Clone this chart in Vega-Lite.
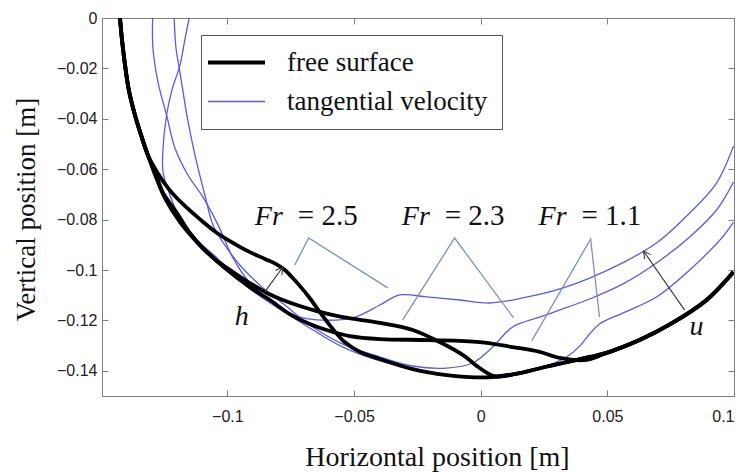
{
  "$schema": "https://vega.github.io/schema/vega-lite/v6.json",
  "width": 632,
  "height": 378,
  "autosize": {"type": "none"},
  "padding": {"left": 102, "top": 18, "right": 11, "bottom": 76},
  "background": "white",
  "config": {
    "view": {"stroke": "#808080", "strokeWidth": 1},
    "axis": {"grid": false, "domainColor": "#808080", "tickColor": "#808080", "tickSize": -6, "labelFont": "Liberation Sans", "labelFontSize": 16, "labelColor": "#222222", "titleFont": "Liberation Serif", "titleFontSize": 28, "titleFontWeight": "normal", "titleColor": "#111111"}
  },
  "datasets": {
    "curves": [
      {"s":"tangential velocity","f":"2.5","i":0,"x":-0.1295,"y":0},
      {"s":"tangential velocity","f":"2.5","i":1,"x":-0.1294,"y":-0.0119},
      {"s":"tangential velocity","f":"2.5","i":2,"x":-0.1274,"y":-0.0254},
      {"s":"tangential velocity","f":"2.5","i":3,"x":-0.1240,"y":-0.0385},
      {"s":"tangential velocity","f":"2.5","i":4,"x":-0.1207,"y":-0.0516},
      {"s":"tangential velocity","f":"2.5","i":5,"x":-0.1156,"y":-0.0623},
      {"s":"tangential velocity","f":"2.5","i":6,"x":-0.1097,"y":-0.0710},
      {"s":"tangential velocity","f":"2.5","i":7,"x":-0.1037,"y":-0.0821},
      {"s":"tangential velocity","f":"2.5","i":8,"x":-0.0978,"y":-0.0952},
      {"s":"tangential velocity","f":"2.5","i":9,"x":-0.0911,"y":-0.1052},
      {"s":"tangential velocity","f":"2.5","i":10,"x":-0.0852,"y":-0.1107},
      {"s":"tangential velocity","f":"2.5","i":11,"x":-0.0781,"y":-0.1159},
      {"s":"tangential velocity","f":"2.5","i":12,"x":-0.0714,"y":-0.1187},
      {"s":"tangential velocity","f":"2.5","i":13,"x":-0.0647,"y":-0.1198},
      {"s":"tangential velocity","f":"2.5","i":14,"x":-0.0505,"y":-0.1190},
      {"s":"tangential velocity","f":"2.5","i":15,"x":-0.0398,"y":-0.1139},
      {"s":"tangential velocity","f":"2.5","i":16,"x":-0.0320,"y":-0.1099},
      {"s":"tangential velocity","f":"2.5","i":17,"x":-0.0213,"y":-0.1107},
      {"s":"tangential velocity","f":"2.5","i":18,"x":-0.0083,"y":-0.1119},
      {"s":"tangential velocity","f":"2.5","i":19,"x":0.0036,"y":-0.1131},
      {"s":"tangential velocity","f":"2.5","i":20,"x":0.0166,"y":-0.1111},
      {"s":"tangential velocity","f":"2.5","i":21,"x":0.0300,"y":-0.1079},
      {"s":"tangential velocity","f":"2.5","i":22,"x":0.0430,"y":-0.1032},
      {"s":"tangential velocity","f":"2.5","i":23,"x":0.0560,"y":-0.0972},
      {"s":"tangential velocity","f":"2.5","i":24,"x":0.0694,"y":-0.0893},
      {"s":"tangential velocity","f":"2.5","i":25,"x":0.0825,"y":-0.0774},
      {"s":"tangential velocity","f":"2.5","i":26,"x":0.0931,"y":-0.0655},
      {"s":"tangential velocity","f":"2.5","i":27,"x":0.0998,"y":-0.0508},
      {"s":"tangential velocity","f":"2.3","i":0,"x":-0.1210,"y":0},
      {"s":"tangential velocity","f":"2.3","i":1,"x":-0.1203,"y":-0.0119},
      {"s":"tangential velocity","f":"2.3","i":2,"x":-0.1191,"y":-0.0194},
      {"s":"tangential velocity","f":"2.3","i":3,"x":-0.1176,"y":-0.0286},
      {"s":"tangential velocity","f":"2.3","i":4,"x":-0.1160,"y":-0.0385},
      {"s":"tangential velocity","f":"2.3","i":5,"x":-0.1128,"y":-0.0544},
      {"s":"tangential velocity","f":"2.3","i":6,"x":-0.1089,"y":-0.0702},
      {"s":"tangential velocity","f":"2.3","i":7,"x":-0.1057,"y":-0.0821},
      {"s":"tangential velocity","f":"2.3","i":8,"x":-0.1010,"y":-0.0901},
      {"s":"tangential velocity","f":"2.3","i":9,"x":-0.0951,"y":-0.0980},
      {"s":"tangential velocity","f":"2.3","i":10,"x":-0.0872,"y":-0.1060},
      {"s":"tangential velocity","f":"2.3","i":11,"x":-0.0773,"y":-0.1139},
      {"s":"tangential velocity","f":"2.3","i":12,"x":-0.0675,"y":-0.1218},
      {"s":"tangential velocity","f":"2.3","i":13,"x":-0.0544,"y":-0.1294},
      {"s":"tangential velocity","f":"2.3","i":14,"x":-0.0410,"y":-0.1341},
      {"s":"tangential velocity","f":"2.3","i":15,"x":-0.0268,"y":-0.1381},
      {"s":"tangential velocity","f":"2.3","i":16,"x":-0.0134,"y":-0.1389},
      {"s":"tangential velocity","f":"2.3","i":17,"x":-0.0032,"y":-0.1369},
      {"s":"tangential velocity","f":"2.3","i":18,"x":0.0047,"y":-0.1306},
      {"s":"tangential velocity","f":"2.3","i":19,"x":0.0126,"y":-0.1226},
      {"s":"tangential velocity","f":"2.3","i":20,"x":0.0233,"y":-0.1187},
      {"s":"tangential velocity","f":"2.3","i":21,"x":0.0300,"y":-0.1163},
      {"s":"tangential velocity","f":"2.3","i":22,"x":0.0430,"y":-0.1115},
      {"s":"tangential velocity","f":"2.3","i":23,"x":0.0560,"y":-0.1056},
      {"s":"tangential velocity","f":"2.3","i":24,"x":0.0694,"y":-0.0972},
      {"s":"tangential velocity","f":"2.3","i":25,"x":0.0825,"y":-0.0869},
      {"s":"tangential velocity","f":"2.3","i":26,"x":0.0931,"y":-0.0762},
      {"s":"tangential velocity","f":"2.3","i":27,"x":0.0998,"y":-0.0651},
      {"s":"tangential velocity","f":"1.1","i":0,"x":-0.1151,"y":0},
      {"s":"tangential velocity","f":"1.1","i":1,"x":-0.1168,"y":-0.0087},
      {"s":"tangential velocity","f":"1.1","i":2,"x":-0.1187,"y":-0.0187},
      {"s":"tangential velocity","f":"1.1","i":3,"x":-0.1219,"y":-0.0286},
      {"s":"tangential velocity","f":"1.1","i":4,"x":-0.1240,"y":-0.0385},
      {"s":"tangential velocity","f":"1.1","i":5,"x":-0.1254,"y":-0.0516},
      {"s":"tangential velocity","f":"1.1","i":6,"x":-0.1254,"y":-0.0611},
      {"s":"tangential velocity","f":"1.1","i":7,"x":-0.1227,"y":-0.0702},
      {"s":"tangential velocity","f":"1.1","i":8,"x":-0.1187,"y":-0.0794},
      {"s":"tangential velocity","f":"1.1","i":9,"x":-0.1128,"y":-0.0873},
      {"s":"tangential velocity","f":"1.1","i":10,"x":-0.1041,"y":-0.0952},
      {"s":"tangential velocity","f":"1.1","i":11,"x":-0.0911,"y":-0.1075},
      {"s":"tangential velocity","f":"1.1","i":12,"x":-0.0781,"y":-0.1163},
      {"s":"tangential velocity","f":"1.1","i":13,"x":-0.0675,"y":-0.1230},
      {"s":"tangential velocity","f":"1.1","i":14,"x":-0.0544,"y":-0.1306},
      {"s":"tangential velocity","f":"1.1","i":15,"x":-0.0398,"y":-0.1361},
      {"s":"tangential velocity","f":"1.1","i":16,"x":-0.0241,"y":-0.1401},
      {"s":"tangential velocity","f":"1.1","i":17,"x":-0.0083,"y":-0.1425},
      {"s":"tangential velocity","f":"1.1","i":18,"x":0.0075,"y":-0.1429},
      {"s":"tangential velocity","f":"1.1","i":19,"x":0.0154,"y":-0.1413},
      {"s":"tangential velocity","f":"1.1","i":20,"x":0.0260,"y":-0.1381},
      {"s":"tangential velocity","f":"1.1","i":21,"x":0.0339,"y":-0.1345},
      {"s":"tangential velocity","f":"1.1","i":22,"x":0.0391,"y":-0.1302},
      {"s":"tangential velocity","f":"1.1","i":23,"x":0.0430,"y":-0.1254},
      {"s":"tangential velocity","f":"1.1","i":24,"x":0.0469,"y":-0.1214},
      {"s":"tangential velocity","f":"1.1","i":25,"x":0.0560,"y":-0.1171},
      {"s":"tangential velocity","f":"1.1","i":26,"x":0.0694,"y":-0.1107},
      {"s":"tangential velocity","f":"1.1","i":27,"x":0.0825,"y":-0.1000},
      {"s":"tangential velocity","f":"1.1","i":28,"x":0.0955,"y":-0.0869},
      {"s":"tangential velocity","f":"1.1","i":29,"x":0.0998,"y":-0.0810},

      {"s":"free surface","f":"2.5","i":0,"x":-0.1424,"y":0},
      {"s":"free surface","f":"2.5","i":1,"x":-0.1416,"y":-0.0087},
      {"s":"free surface","f":"2.5","i":2,"x":-0.1404,"y":-0.0187},
      {"s":"free surface","f":"2.5","i":3,"x":-0.1389,"y":-0.0286},
      {"s":"free surface","f":"2.5","i":4,"x":-0.1365,"y":-0.0385},
      {"s":"free surface","f":"2.5","i":5,"x":-0.1341,"y":-0.0464},
      {"s":"free surface","f":"2.5","i":6,"x":-0.1314,"y":-0.0544},
      {"s":"free surface","f":"2.5","i":7,"x":-0.1278,"y":-0.0611},
      {"s":"free surface","f":"2.5","i":8,"x":-0.1231,"y":-0.0679},
      {"s":"free surface","f":"2.5","i":9,"x":-0.1172,"y":-0.0742},
      {"s":"free surface","f":"2.5","i":10,"x":-0.1109,"y":-0.0798},
      {"s":"free surface","f":"2.5","i":11,"x":-0.1041,"y":-0.0853},
      {"s":"free surface","f":"2.5","i":12,"x":-0.0970,"y":-0.0897},
      {"s":"free surface","f":"2.5","i":13,"x":-0.0911,"y":-0.0929},
      {"s":"free surface","f":"2.5","i":14,"x":-0.0852,"y":-0.0956},
      {"s":"free surface","f":"2.5","i":15,"x":-0.0809,"y":-0.0976},
      {"s":"free surface","f":"2.5","i":16,"x":-0.0773,"y":-0.1000},
      {"s":"free surface","f":"2.5","i":17,"x":-0.0742,"y":-0.1032},
      {"s":"free surface","f":"2.5","i":18,"x":-0.0714,"y":-0.1063},
      {"s":"free surface","f":"2.5","i":19,"x":-0.0675,"y":-0.1111},
      {"s":"free surface","f":"2.5","i":20,"x":-0.0635,"y":-0.1167},
      {"s":"free surface","f":"2.5","i":21,"x":-0.0584,"y":-0.1234},
      {"s":"free surface","f":"2.5","i":22,"x":-0.0537,"y":-0.1286},
      {"s":"free surface","f":"2.5","i":23,"x":-0.0477,"y":-0.1325},
      {"s":"free surface","f":"2.5","i":24,"x":-0.0398,"y":-0.1353},
      {"s":"free surface","f":"2.5","i":25,"x":-0.0268,"y":-0.1393},
      {"s":"free surface","f":"2.5","i":26,"x":-0.0134,"y":-0.1417},
      {"s":"free surface","f":"2.5","i":27,"x":-0.0043,"y":-0.1425},
      {"s":"free surface","f":"2.5","i":28,"x":0.0036,"y":-0.1425},
      {"s":"free surface","f":"2.5","i":29,"x":0.0154,"y":-0.1409},
      {"s":"free surface","f":"2.5","i":30,"x":0.0253,"y":-0.1385},
      {"s":"free surface","f":"2.5","i":31,"x":0.0324,"y":-0.1369},
      {"s":"free surface","f":"2.5","i":32,"x":0.0430,"y":-0.1345},
      {"s":"free surface","f":"2.5","i":33,"x":0.0497,"y":-0.1329},
      {"s":"free surface","f":"2.5","i":34,"x":0.0627,"y":-0.1278},
      {"s":"free surface","f":"2.5","i":35,"x":0.0757,"y":-0.1210},
      {"s":"free surface","f":"2.5","i":36,"x":0.0892,"y":-0.1119},
      {"s":"free surface","f":"2.5","i":37,"x":0.0998,"y":-0.1008},

      {"s":"free surface","f":"2.3","i":0,"x":-0.1424,"y":0},
      {"s":"free surface","f":"2.3","i":1,"x":-0.1416,"y":-0.0087},
      {"s":"free surface","f":"2.3","i":2,"x":-0.1404,"y":-0.0187},
      {"s":"free surface","f":"2.3","i":3,"x":-0.1389,"y":-0.0286},
      {"s":"free surface","f":"2.3","i":4,"x":-0.1365,"y":-0.0385},
      {"s":"free surface","f":"2.3","i":5,"x":-0.1341,"y":-0.0464},
      {"s":"free surface","f":"2.3","i":6,"x":-0.1314,"y":-0.0544},
      {"s":"free surface","f":"2.3","i":7,"x":-0.1286,"y":-0.0611},
      {"s":"free surface","f":"2.3","i":8,"x":-0.1254,"y":-0.0694},
      {"s":"free surface","f":"2.3","i":9,"x":-0.1199,"y":-0.0774},
      {"s":"free surface","f":"2.3","i":10,"x":-0.1148,"y":-0.0853},
      {"s":"free surface","f":"2.3","i":11,"x":-0.1097,"y":-0.0913},
      {"s":"free surface","f":"2.3","i":12,"x":-0.1041,"y":-0.0964},
      {"s":"free surface","f":"2.3","i":13,"x":-0.0978,"y":-0.1008},
      {"s":"free surface","f":"2.3","i":14,"x":-0.0911,"y":-0.1052},
      {"s":"free surface","f":"2.3","i":15,"x":-0.0844,"y":-0.1091},
      {"s":"free surface","f":"2.3","i":16,"x":-0.0781,"y":-0.1119},
      {"s":"free surface","f":"2.3","i":17,"x":-0.0714,"y":-0.1143},
      {"s":"free surface","f":"2.3","i":18,"x":-0.0647,"y":-0.1163},
      {"s":"free surface","f":"2.3","i":19,"x":-0.0544,"y":-0.1187},
      {"s":"free surface","f":"2.3","i":20,"x":-0.0398,"y":-0.1210},
      {"s":"free surface","f":"2.3","i":21,"x":-0.0268,"y":-0.1238},
      {"s":"free surface","f":"2.3","i":22,"x":-0.0162,"y":-0.1286},
      {"s":"free surface","f":"2.3","i":23,"x":-0.0071,"y":-0.1337},
      {"s":"free surface","f":"2.3","i":24,"x":-0.0004,"y":-0.1389},
      {"s":"free surface","f":"2.3","i":25,"x":0.0055,"y":-0.1421},
      {"s":"free surface","f":"2.3","i":26,"x":0.0154,"y":-0.1409},
      {"s":"free surface","f":"2.3","i":27,"x":0.0253,"y":-0.1385},
      {"s":"free surface","f":"2.3","i":28,"x":0.0324,"y":-0.1369},
      {"s":"free surface","f":"2.3","i":29,"x":0.0430,"y":-0.1345},
      {"s":"free surface","f":"2.3","i":30,"x":0.0497,"y":-0.1329},
      {"s":"free surface","f":"2.3","i":31,"x":0.0627,"y":-0.1278},
      {"s":"free surface","f":"2.3","i":32,"x":0.0757,"y":-0.1210},
      {"s":"free surface","f":"2.3","i":33,"x":0.0892,"y":-0.1119},
      {"s":"free surface","f":"2.3","i":34,"x":0.0998,"y":-0.1008},

      {"s":"free surface","f":"1.1","i":0,"x":-0.1424,"y":0},
      {"s":"free surface","f":"1.1","i":1,"x":-0.1416,"y":-0.0087},
      {"s":"free surface","f":"1.1","i":2,"x":-0.1404,"y":-0.0187},
      {"s":"free surface","f":"1.1","i":3,"x":-0.1389,"y":-0.0286},
      {"s":"free surface","f":"1.1","i":4,"x":-0.1365,"y":-0.0385},
      {"s":"free surface","f":"1.1","i":5,"x":-0.1341,"y":-0.0464},
      {"s":"free surface","f":"1.1","i":6,"x":-0.1314,"y":-0.0544},
      {"s":"free surface","f":"1.1","i":7,"x":-0.1282,"y":-0.0631},
      {"s":"free surface","f":"1.1","i":8,"x":-0.1247,"y":-0.0714},
      {"s":"free surface","f":"1.1","i":9,"x":-0.1187,"y":-0.0810},
      {"s":"free surface","f":"1.1","i":10,"x":-0.1109,"y":-0.0901},
      {"s":"free surface","f":"1.1","i":11,"x":-0.1010,"y":-0.0992},
      {"s":"free surface","f":"1.1","i":12,"x":-0.0911,"y":-0.1068},
      {"s":"free surface","f":"1.1","i":13,"x":-0.0832,"y":-0.1119},
      {"s":"free surface","f":"1.1","i":14,"x":-0.0754,"y":-0.1175},
      {"s":"free surface","f":"1.1","i":15,"x":-0.0675,"y":-0.1214},
      {"s":"free surface","f":"1.1","i":16,"x":-0.0596,"y":-0.1242},
      {"s":"free surface","f":"1.1","i":17,"x":-0.0517,"y":-0.1262},
      {"s":"free surface","f":"1.1","i":18,"x":-0.0398,"y":-0.1274},
      {"s":"free surface","f":"1.1","i":19,"x":-0.0201,"y":-0.1278},
      {"s":"free surface","f":"1.1","i":20,"x":-0.0004,"y":-0.1286},
      {"s":"free surface","f":"1.1","i":21,"x":0.0126,"y":-0.1306},
      {"s":"free surface","f":"1.1","i":22,"x":0.0233,"y":-0.1325},
      {"s":"free surface","f":"1.1","i":23,"x":0.0312,"y":-0.1349},
      {"s":"free surface","f":"1.1","i":24,"x":0.0418,"y":-0.1357},
      {"s":"free surface","f":"1.1","i":25,"x":0.0497,"y":-0.1329},
      {"s":"free surface","f":"1.1","i":26,"x":0.0627,"y":-0.1278},
      {"s":"free surface","f":"1.1","i":27,"x":0.0757,"y":-0.1210},
      {"s":"free surface","f":"1.1","i":28,"x":0.0892,"y":-0.1119},
      {"s":"free surface","f":"1.1","i":29,"x":0.0998,"y":-0.1008}
    ],
    "leaders": [
      {"g":"2.5","i":0,"x":-0.0734,"y":-0.0980},
      {"g":"2.5","i":1,"x":-0.0679,"y":-0.0873},
      {"g":"2.5","i":2,"x":-0.0367,"y":-0.1071},
      {"g":"2.3","i":0,"x":-0.0308,"y":-0.1198},
      {"g":"2.3","i":1,"x":-0.0103,"y":-0.0873},
      {"g":"2.3","i":2,"x":0.0130,"y":-0.1190},
      {"g":"1.1","i":0,"x":0.0201,"y":-0.1282},
      {"g":"1.1","i":1,"x":0.0434,"y":-0.0877},
      {"g":"1.1","i":2,"x":0.0469,"y":-0.1187}
    ],
    "arrows": [
      {"g":"h","i":0,"x":-0.0852,"y":-0.1087},
      {"g":"h","i":1,"x":-0.0781,"y":-0.0988},
      {"g":"hh","i":0,"x":-0.0810,"y":-0.1002},
      {"g":"hh","i":1,"x":-0.0781,"y":-0.0988},
      {"g":"hh","i":2,"x":-0.0785,"y":-0.1019},
      {"g":"u","i":0,"x":0.0805,"y":-0.1159},
      {"g":"u","i":1,"x":0.0643,"y":-0.0925},
      {"g":"uh","i":0,"x":0.0647,"y":-0.0956},
      {"g":"uh","i":1,"x":0.0643,"y":-0.0925},
      {"g":"uh","i":2,"x":0.0671,"y":-0.0939}
    ],
    "frs": [
      {"a":"Fr","b":"= 2.5","xa":-0.0781,"xb":-0.0722,"y":-0.0821},
      {"a":"Fr","b":"= 2.3","xa":-0.0201,"xb":-0.0142,"y":-0.0821},
      {"a":"Fr","b":"= 1.1","xa":0.0339,"xb":0.0398,"y":-0.0821}
    ],
    "syms": [
      {"t":"h","x":-0.0943,"y":-0.1218},
      {"t":"u","x":0.0852,"y":-0.1258}
    ]
  },
  "layer": [
    {
      "data": {"name": "curves"},
      "transform": [{"filter": "datum.s === 'tangential velocity'"}],
      "mark": {"type": "line", "interpolate": "catmull-rom", "strokeWidth": 1.3, "clip": true},
      "encoding": {
        "x": {"field": "x", "type": "quantitative", "scale": {"domain": [-0.1495, 0.1], "nice": false, "zero": false},
              "axis": {"orient": "top", "values": [-0.1, -0.05, 0, 0.05, 0.1], "labels": false, "title": null}},
        "y": {"field": "y", "type": "quantitative", "scale": {"domain": [-0.15, 0], "nice": false, "zero": false},
              "axis": {"orient": "right", "values": [-0.14, -0.12, -0.1, -0.08, -0.06, -0.04, -0.02, 0], "labels": false, "title": null}},
        "color": {"field": "s", "type": "nominal", "scale": {"domain": ["free surface", "tangential velocity"], "range": ["#000000", "#5a5ae6"]},
                  "legend": {"orient": "none", "legendX": 99, "legendY": 17, "title": null, "symbolType": "stroke", "symbolSize": 3249, "symbolOffset": 8, "labelFont": "Liberation Serif", "labelFontSize": 27, "labelColor": "#111111", "labelOffset": 37, "labelLimit": 400, "rowPadding": 11, "padding": 14, "strokeColor": "#555555", "fillColor": "white",
                             "encode": {"symbols": {"update": {"strokeWidth": {"signal": "datum.value === 'free surface' ? 3.8 : 1.3"}}}}}},
        "detail": {"field": "f"},
        "order": {"field": "i", "type": "quantitative"}
      }
    },
    {
      "data": {"name": "curves"},
      "transform": [{"filter": "datum.s === 'free surface'"}],
      "mark": {"type": "line", "interpolate": "catmull-rom", "strokeWidth": 3.8, "clip": true},
      "encoding": {
        "x": {"field": "x", "type": "quantitative",
              "axis": {"orient": "bottom", "values": [-0.1, -0.05, 0, 0.05, 0.1], "format": "~g", "labelPadding": 18, "title": "Horizontal position [m]", "titleX": 335, "titleY": 69, "titleAlign": "center", "titleBaseline": "alphabetic"}},
        "y": {"field": "y", "type": "quantitative",
              "axis": {"orient": "left", "values": [-0.14, -0.12, -0.1, -0.08, -0.06, -0.04, -0.02, 0], "format": "~g", "labelPadding": 11, "title": "Vertical position [m]", "titleFontSize": 27, "titleX": -76, "titleY": 191, "titleAngle": 270, "titleAlign": "center", "titleBaseline": "middle"}},
        "color": {"field": "s", "type": "nominal",
                  "legend": {"orient": "none", "legendX": 99, "legendY": 17, "title": null, "symbolType": "stroke", "symbolSize": 3249, "symbolOffset": 8, "labelFont": "Liberation Serif", "labelFontSize": 27, "labelColor": "#111111", "labelOffset": 37, "labelLimit": 400, "rowPadding": 11, "padding": 14, "strokeColor": "#555555", "fillColor": "white",
                             "encode": {"symbols": {"update": {"strokeWidth": {"signal": "datum.value === 'free surface' ? 3.8 : 1.3"}}}}}},
        "detail": {"field": "f"},
        "order": {"field": "i", "type": "quantitative"}
      }
    },
    {
      "data": {"name": "leaders"},
      "mark": {"type": "line", "color": "#7b93b8", "strokeWidth": 1.3},
      "encoding": {
        "x": {"field": "x", "type": "quantitative", "axis": null},
        "y": {"field": "y", "type": "quantitative", "axis": null},
        "detail": {"field": "g"},
        "order": {"field": "i", "type": "quantitative"}
      }
    },
    {
      "data": {"name": "arrows"},
      "mark": {"type": "line", "color": "#333333", "strokeWidth": 1.1},
      "encoding": {
        "x": {"field": "x", "type": "quantitative", "axis": null},
        "y": {"field": "y", "type": "quantitative", "axis": null},
        "detail": {"field": "g"},
        "order": {"field": "i", "type": "quantitative"}
      }
    },
    {
      "data": {"name": "frs"},
      "mark": {"type": "text", "font": "Liberation Serif", "fontSize": 28, "fontStyle": "italic", "align": "right", "baseline": "alphabetic", "color": "#111111"},
      "encoding": {
        "x": {"field": "xa", "type": "quantitative", "axis": null},
        "y": {"field": "y", "type": "quantitative", "axis": null},
        "text": {"field": "a"}
      }
    },
    {
      "data": {"name": "frs"},
      "mark": {"type": "text", "font": "Liberation Serif", "fontSize": 29, "align": "left", "baseline": "alphabetic", "color": "#111111"},
      "encoding": {
        "x": {"field": "xb", "type": "quantitative", "axis": null},
        "y": {"field": "y", "type": "quantitative", "axis": null},
        "text": {"field": "b"}
      }
    },
    {
      "data": {"name": "syms"},
      "mark": {"type": "text", "font": "Liberation Serif", "fontSize": 28, "fontStyle": "italic", "align": "center", "baseline": "alphabetic", "color": "#111111"},
      "encoding": {
        "x": {"field": "x", "type": "quantitative", "axis": null},
        "y": {"field": "y", "type": "quantitative", "axis": null},
        "text": {"field": "t"}
      }
    }
  ],
  "resolve": {"axis": {"x": "independent", "y": "independent"}}
}
